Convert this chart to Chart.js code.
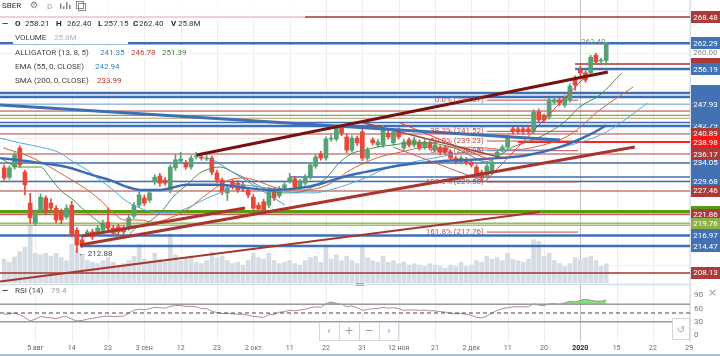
<!DOCTYPE html>
<html><head><meta charset="utf-8">
<script src="https://cdn.jsdelivr.net/npm/chart.js@4.4.1/dist/chart.umd.min.js"></script>
<style>
html,body{margin:0;padding:0;background:#fff;}
body{width:720px;height:356px;position:relative;overflow:hidden;}
canvas{position:absolute;left:0;}
#main{top:0;} #rsi{top:286px;}
</style></head><body>
<canvas id="main" width="720" height="286"></canvas>
<canvas id="rsi" width="720" height="70"></canvas>
<script>
// ---------- DATA ----------
const opens=[232.9,230.7,233.1,237.6,231.9,224.6,219.9,223.0,225.8,224.6,223.4,222.5,221.3,224.1,218.2,215.9,217.3,217.8,217.5,218.2,220.1,218.7,219.0,218.7,218.7,221.5,224.1,225.8,225.3,229.6,231.0,230.0,227.7,232.9,234.5,234.1,233.1,235.5,235.5,235.0,235.2,231.7,230.0,227.0,229.6,229.3,228.9,227.7,226.0,224.1,224.9,224.1,227.7,226.3,228.2,229.8,230.3,228.4,229.3,230.7,233.3,236.2,235.2,239.7,239.7,242.3,240.2,237.1,239.9,241.4,235.2,239.5,238.3,238.3,241.1,238.8,241.4,237.6,239.5,238.3,239.0,237.8,238.8,237.1,237.6,237.6,236.6,235.2,234.3,234.8,234.3,233.1,231.9,231.0,231.9,235.9,237.1,237.8,242.1,242.1,242.1,242.1,241.4,246.1,245.1,244.9,248.4,248.9,247.7,248.9,254.1,256.0,255.3,255.3,259.5,258.1,258.21];
const closes=[230.5,232.9,235.9,233.6,228.9,221.1,222.3,226.0,222.5,223.4,220.6,220.6,223.4,217.1,214.7,214.7,217.8,216.6,218.7,219.9,218.7,217.5,217.8,217.8,221.1,224.1,226.5,224.6,227.0,230.7,229.3,229.3,233.1,234.8,235.0,233.1,235.2,235.7,235.2,235.2,231.9,230.0,227.2,228.2,228.4,227.7,227.9,226.5,223.4,223.2,223.0,227.7,225.8,227.9,228.9,230.5,228.4,229.6,230.7,233.6,235.5,235.2,239.7,239.9,242.3,241.1,237.1,239.9,238.8,235.2,237.1,238.8,239.0,242.3,240.2,241.4,240.2,239.0,238.3,239.5,237.6,239.0,237.6,238.3,236.6,236.6,235.2,234.3,235.2,234.1,233.6,231.2,230.5,233.3,234.3,236.6,237.8,240.2,241.4,241.4,241.4,241.4,246.1,244.2,244.2,248.9,248.9,248.2,249.4,252.2,252.4,255.3,253.6,259.0,257.9,258.3,262.40];
const highs=[233.6,233.4,236.5,238.1,232.4,226.9,223.0,226.8,226.3,225.6,224.0,223.2,224.2,225.0,218.8,216.8,218.3,218.4,219.3,220.6,223.4,219.4,219.6,219.3,221.7,224.7,227.2,226.5,227.6,231.3,231.6,230.6,233.6,236.0,236.6,234.7,235.8,236.6,236.0,235.9,235.7,232.3,230.5,228.8,230.2,229.9,229.5,228.2,226.6,224.7,225.5,228.3,228.2,228.5,229.4,231.6,230.9,230.2,231.3,234.1,236.0,236.8,240.2,240.7,242.8,242.8,240.9,240.5,240.4,242.0,237.7,240.0,239.6,242.9,241.7,241.9,242.3,239.6,240.0,240.1,239.5,239.6,239.3,238.9,238.1,238.1,237.1,235.7,235.7,235.3,234.8,233.6,232.4,233.8,234.8,237.1,238.3,240.7,242.5,242.6,242.5,242.7,246.6,246.8,245.6,249.4,249.4,249.4,249.9,252.7,254.6,256.9,255.8,259.5,260.0,258.8,262.40];
const lows=[230.0,230.2,232.6,233.0,226.5,219.9,219.3,222.5,221.9,222.8,220.0,219.7,220.8,216.6,212.88,214.0,216.8,216.0,217.0,217.8,218.2,217.0,217.3,217.2,218.2,221.0,223.6,224.0,224.8,229.0,228.6,228.8,227.0,232.3,234.0,232.6,232.6,235.0,234.7,234.6,231.3,229.4,226.6,225.2,227.9,227.1,227.3,225.9,222.9,222.6,222.4,223.5,225.2,225.8,227.6,229.3,227.8,227.9,228.8,230.2,232.8,234.7,234.7,239.2,239.2,240.5,236.5,236.6,238.2,234.6,234.7,238.3,237.8,237.8,239.7,238.3,239.7,237.1,237.8,237.8,237.1,237.3,237.1,236.6,236.1,236.1,234.7,233.8,233.8,233.6,233.1,230.7,229.58,230.5,231.4,235.4,236.6,237.3,240.9,240.9,240.8,240.9,240.9,243.6,243.6,244.4,247.9,247.6,247.2,248.4,251.2,254.6,253.1,254.8,257.4,257.5,257.15];
const volumes=[32,28,35,42,48,78,40,38,40,36,40,34,30,52,46,38,30,28,26,30,34,28,24,26,30,36,52,32,30,40,32,28,66,38,30,34,36,28,26,30,42,34,36,30,26,28,24,30,40,34,32,40,30,26,28,30,26,24,30,34,36,28,50,32,38,30,36,30,26,48,34,30,28,36,28,30,26,28,24,26,24,22,26,24,22,20,24,22,28,22,24,30,28,36,32,34,30,40,32,30,28,32,58,56,36,40,30,26,22,26,34,32,34,36,30,22,25.8];
const rsiValues=[47,48,50,46,40,32,36,42,40,39,37,41,42,36,32,33,36,38,40,42,43,42,42,43,50,56,59,57,60,63,62,61,65,67,67,65,65,64,60,60,54,51,49,49,48,47,47,45,42,41,40,47,46,52,53,56,55,57,59,62,64,63,71,75,72,70,64,66,62,56,58,60,60,63,61,62,60,56,57,57,56,57,55,55,53,52,49,48,49,47,45,40,39,43,50,56,60,62,64,64,64,64,71,68,67,71,71,70,73,77,75,79,81,79,77,77,79.4];

// indicator lines, sampled at bar positions
const emaX=[-0.8,5.5,12,17,20.4,23.7,26.2,30,35.2,41.6,46.4,51.8,58.3,62.2,66,69.5,76.8,84.5,92.6,100.7,107,113.4,116];
const emaY=[235.2,234.3,233.1,231.2,230.0,228.4,227.7,227.7,228.9,228.9,228.2,227.7,228.4,229.6,231.0,231.9,233.6,234.5,235.0,235.9,237.8,241.1,242.94];
const jawX=[-0.8,3,7,10.8,13.3,16,18.5,21,23.3,26.2,28.7,32,35.2,38.3,41.6,45.4,49.3,53.1,56.4,59.5,62.8,66,69.5,73.8,78.8,84,87.8,92.6,103.2,110.9,116,124];
const jawY=[239.9,238.8,237.8,236.4,234.3,232.4,230.0,227.7,225.3,223.4,222.5,222.3,223.4,225.3,227.0,228.9,228.4,227.7,227.0,227.0,227.7,228.9,230.5,232.9,234.3,235.5,236.4,237.1,237.1,238.9,241.35,248.2];
const teethX=[-0.2,5,8.8,12.1,15.2,18.5,21,23.3,26.2,28.7,32,35.2,38.3,41.6,44,46.4,49.3,51.8,55,58.3,60.8,63.4,66,69.5,72.4,76.3,80.1,84,87.8,92.6,97.5,103.2,109,114.8,121.2];
const teethY=[237.6,235.5,233.1,230.7,228.4,225.3,222.3,220.6,220.6,220.1,221.1,223.0,226.0,228.9,230.3,230.5,229.6,228.4,227.7,227.7,228.2,229.6,231.9,234.1,235.5,236.6,237.6,237.8,237.8,237.6,237.1,238.1,240.7,246.6,252.0];
const lipsX=[-0.8,3,7,8.8,10.8,13.3,16,18.5,20.4,23.3,25.6,27.5,30.6,32.5,35.2,37.7,40.2,41.6,44,46.4,48.7,51.8,54.5,57,59.5,62.2,64.7,67.2,69.5,71.8,74.9,78.2,81.5,84.5,87.8,90.3,92.6,95.5,98,101.9,105.7,108.4,110.9,114.8,119];
const lipsY=[235.2,233.1,233.1,230.7,227.7,225.3,222.3,219.9,218.2,216.6,219.0,219.9,223.0,226.0,228.9,231.7,232.9,233.1,231.9,230.5,228.9,227.2,227.0,227.2,228.4,230.7,234.3,236.4,237.1,237.8,238.3,238.8,238.8,238.3,237.1,235.5,234.3,235.9,237.8,239.5,241.8,244.2,247.3,250.1,255.3];

// horizontal levels: price, first bar index
const levelPrices=[268.48,262.29,257.40,256.19,250.56,249.62,247.93,246.30,245.30,244.60,243.60,242.79,240.89,238.98,236.17,234.05,230.74,229.68,227.46,222.56,221.86,219.76,219.30,216.97,214.47,208.13];
const levelStart =[-1,-1,110,110,-1,-1,-1,-1,-1,-1,-1,-1,-1,99,-1,-1,55,-1,-1,-1,-1,-1,-1,-1,14.6,-1];
const levelKind  =['dred','blue','dred','blue','blue','blue','blueT','dredT','greenT','oliveT','blueM','blue','dredT','red','dredT','blueM','blueM','blueM','pink','green','dredT','olive','pinkT','blue','blue','dred'];

// right-hand labels, in drawing order (later ones cover earlier ones)
const labelPrices=[268.48,262.29,257.40,256.19,251.00,249.62,242.79,244.66,245.90,247.93,240.89,238.98,234.05,236.17,231.90,229.68,227.46,222.56,221.86,219.76,216.97,214.47,208.13];
const labelKind  =['dred','blue','dred','blue','blue','blue','blue','blue','blue','blue','dred','red','blue','dred','blue','blue','dred','green','dred','olive','blue','blue','dred'];
const labelShown =[1,1,0,1,0,0,1,0,0,1,1,1,1,1,0,1,1,1,1,1,1,1,1];

// trend lines: [barA, priceA, barB, priceB]
const trendLines=[[37.1,235.93,116.3,255.51],[14.6,214.70,121.5,237.82],[-0.8,206.1,103.2,222.5],[15,216.83,46.4,223.43],[-0.8,247.73,107.1,239.47],[68.6,243.72,96.1,235.23],[76.3,243.5,93.6,234.76],[39.7,235.23,54.1,224.14],[92.6,229.58,111.5,253.86],[74.9,237.82,92.3,229.8]];
const trendKind=['maroon','brick','brick2','brick','blueThick','brownMid','redThin','blueThin','redThin','redFaint'];

// Fibonacci levels
const fibRatios=['0.0%','38.2%','50.0%','61.8%','100.0%','161.8%'];
const fibPrices=[248.87,241.52,239.23,236.95,229.58,217.76];
const fibFrom=93, fibTo=110.6;

// time axis
const dateTickIdx=[6,13,20,27,34,41,48,55,62,69,76,83,90,97,104,111,118,125,132];
const dateTickLabels=['5 авг','14','23','3 сен','12','23','2 окт','11','22','31','12 ноя','21','2 дек','11','20','2020','15','22','29'];
const priceGrid=[270,260,250,240,230,220,210];

// ---------- STYLE ----------
const X_MIN=-0.81, X_MAX=132.14;
const GREEN='#55a272', RED='#e8483a';
const LV={dred:['#a83232',1.5],blue:['#3f6fb4',2.5],blueT:['#6a9ad0',1],blueM:['#3f6fb4',1.5],dredT:['#b04040',1],greenT:['#4c9a4c',1],oliveT:['#b0a060',1],red:['#ff2020',2],pink:['#c87878',1.5],pinkT:['#d09a9a',1],green:['#5a9b12',3.5],olive:['#9fba66',2]};
const LB={dred:'#ab3b3b',blue:'#4272b4',red:'#ff1414',green:'#5a9a10',olive:'#8fb046'};
const TK={maroon:['#7a0f0f',3],brick:['#a8352e',3],brick2:['#a8352e',2],blueThick:['#3f6fb4',3],brownMid:['#9a4a4a',1.5],redThin:['#ff3030',1],blueThin:['#5a8fd0',1],redFaint:['#c06060',1]};
const FONT='Roboto, "Liberation Sans", sans-serif';

const xy=(xs,ys)=>xs.map((x,i)=>({x:x,y:ys[i]}));
const datasets=[];
datasets.push({type:'bar',label:'vol',data:volumes.map((v,i)=>({x:i,y:v})),yAxisID:'yv',backgroundColor:'#d5dce3',barThickness:4,grouped:false,order:30});
levelPrices.forEach((p,i)=>{const s=LV[levelKind[i]];datasets.push({type:'line',data:[{x:levelStart[i]<0?X_MIN:levelStart[i],y:p},{x:X_MAX,y:p}],borderColor:s[0],borderWidth:s[1],pointRadius:0,order:20});});
fibPrices.forEach(p=>datasets.push({type:'line',data:[{x:fibFrom,y:p},{x:fibTo,y:p}],borderColor:'#c24a48',borderWidth:1,pointRadius:0,order:19}));
datasets.push({type:'bar',label:'wick',data:opens.map((o,i)=>({x:i,y:[lows[i],highs[i]]})),backgroundColor:opens.map((o,i)=>closes[i]>=o?GREEN:RED),barThickness:1,grouped:false,order:12});
datasets.push({type:'bar',label:'body',data:opens.map((o,i)=>({x:i,y:[o,closes[i]]})),backgroundColor:opens.map((o,i)=>closes[i]>=o?GREEN:RED),barThickness:4,minBarLength:1,grouped:false,order:11});
const indic=[[emaX,emaY,'#3c6db3',2.5],[jawX,jawY,'#55a9e2',1],[teethX,teethY,'#d9603c',1],[lipsX,lipsY,'#4e8e4e',1]];
indic.forEach(d=>datasets.push({type:'line',data:xy(d[0],d[1]),borderColor:d[2],borderWidth:d[3],pointRadius:0,cubicInterpolationMode:'monotone',order:6}));
trendLines.forEach((t,i)=>{const s=TK[trendKind[i]];datasets.push({type:'line',data:[{x:t[0],y:t[1]},{x:t[2],y:t[3]}],borderColor:s[0],borderWidth:s[1],pointRadius:0,order:4});});

function txt(ctx,s,x,y,color,font,align){ctx.fillStyle=color;ctx.font=font;ctx.textAlign=align||'left';ctx.textBaseline='middle';ctx.fillText(s,x,y);}

const mainDecor={id:'mainDecor',
 beforeDatasetsDraw(c){const ctx=c.ctx,xs=c.scales.x,ys=c.scales.y,a=c.chartArea;ctx.save();
  ctx.lineWidth=1;ctx.strokeStyle='#efefef';
  priceGrid.forEach(p=>{const y=Math.round(ys.getPixelForValue(p))+0.5;ctx.beginPath();ctx.moveTo(a.left,y);ctx.lineTo(a.right,y);ctx.stroke();});
  dateTickIdx.forEach((k,i)=>{const x=Math.round(xs.getPixelForValue(k))+0.5;ctx.strokeStyle=dateTickLabels[i]==='2020'?'#c2c2c2':'#ededed';ctx.beginPath();ctx.moveTo(x,a.top);ctx.lineTo(x,a.bottom+3);ctx.stroke();});
  ctx.restore();},
 afterDatasetsDraw(c){const ctx=c.ctx,xs=c.scales.x,ys=c.scales.y;ctx.save();
  const F8='8px '+FONT, B8='bold 8px '+FONT;
  // faded top header strip
  ctx.fillStyle='rgba(255,255,255,0.72)';ctx.fillRect(0,0,305,21);
  // fib texts
  fibPrices.forEach((p,i)=>txt(ctx,fibRatios[i]+' ('+p.toFixed(2)+')',xs.getPixelForValue(fibFrom)-3,ys.getPixelForValue(p),'rgba(185,60,60,0.9)',F8,'right'));
  txt(ctx,'\u2190 212.88',xs.getPixelForValue(14)+1,ys.getPixelForValue(212.88)+1,'#444',F8);
  txt(ctx,'262.40',xs.getPixelForValue(113.5),ys.getPixelForValue(262.6),'#8a8a8a',F8,'center');
  // header
  txt(ctx,'SBER',2,6,'#333',F8);
  txt(ctx,'\u2699',30,6,'#777','9px "DejaVu Sans"');
  txt(ctx,'D',47,7,'#999',F8);
  ctx.fillStyle='#888';[[60,4],[63,2],[66,5],[69,3]].forEach(b=>ctx.fillRect(b[0],9-b[1]*1.4,1.5,b[1]*1.4));
  ctx.strokeStyle='#888';ctx.lineWidth=1;ctx.strokeRect(76.5,1.5,7,7);ctx.strokeRect(78.5,3.5,7,7);
  txt(ctx,'\u2014',2,24,'#222',B8);
  [['O',15],['H',56],['L',98],['C',133],['V',171]].forEach(t=>txt(ctx,t[0],t[1],24,'#222',B8));
  [['258.21',25],['262.40',67],['257.15',104],['262.40',139],['25.8M',178]].forEach(t=>txt(ctx,t[0],t[1],24,'#333',F8));
  const rows=[[38,[['VOLUME','#444',15],['25.8M','#aab4c0',54]],128],[53,[['ALLIGATOR (13, 8, 5)','#444',15],['241.35','#3b7fcf',100],['246.78','#c0392b',131],['251.39','#3e7e3e',162]],190],[67,[['EMA (55, 0, CLOSE)','#444',15],['242.94','#3b7fcf',95]],122],[81,[['SMA (200, 0, CLOSE)','#444',15],['233.99','#c0392b',97]],124]];
  rows.forEach(r=>{ctx.fillStyle='#fff';ctx.fillRect(13,r[0]-6,r[2]-13,12);r[1].forEach(t=>txt(ctx,t[0],t[2],r[0],t[1],F8));});
  // right border and labels
  ctx.fillStyle='#fff';ctx.fillRect(690,0,30,286);
  ctx.strokeStyle='#d9e0e7';ctx.beginPath();ctx.moveTo(690.5,0);ctx.lineTo(690.5,286);ctx.stroke();
  txt(ctx,'260.00',693,ys.getPixelForValue(260),'#8a8a8a',F8);
  labelPrices.forEach((p,i)=>{const y=ys.getPixelForValue(p);ctx.fillStyle=LB[labelKind[i]];ctx.fillRect(691,Math.round(y-6),29,12);if(labelShown[i])txt(ctx,p.toFixed(2),705.5,y+0.5,'#fff',F8,'center');});
  // separator
  ctx.strokeStyle='#d3dbe4';ctx.lineWidth=1.5;ctx.beginPath();ctx.moveTo(0,284.5);ctx.lineTo(690,284.5);ctx.stroke();
  ctx.strokeStyle='#aaa';ctx.lineWidth=1;ctx.beginPath();ctx.moveTo(356,283.5);ctx.lineTo(364,283.5);ctx.moveTo(356,285.5);ctx.lineTo(364,285.5);ctx.stroke();
  ctx.restore();}
};

new Chart(document.getElementById('main'),{type:'bar',data:{datasets:datasets},
 options:{responsive:false,devicePixelRatio:1,animation:false,events:[],
  layout:{padding:{left:0,right:30,top:0,bottom:3}},
  plugins:{legend:{display:false},tooltip:{enabled:false}},
  scales:{x:{type:'linear',min:X_MIN,max:X_MAX,display:false,offset:false},
          y:{min:205.75,max:272.49,display:false},
          yv:{min:0,max:380,display:false}}},
 plugins:[mainDecor]});

// ---------- RSI ----------
const rsiDecor={id:'rsiDecor',
 beforeDatasetsDraw(c){const ctx=c.ctx,xs=c.scales.x,a=c.chartArea;ctx.save();ctx.lineWidth=1;
  dateTickIdx.forEach((k,i)=>{const x=Math.round(xs.getPixelForValue(k))+0.5;ctx.strokeStyle=dateTickLabels[i]==='2020'?'#c2c2c2':'#ededed';ctx.beginPath();ctx.moveTo(x,0);ctx.lineTo(x,56);ctx.stroke();});
  ctx.restore();},
 afterDatasetsDraw(c){const ctx=c.ctx,xs=c.scales.x,ys=c.scales.y;ctx.save();
  const F8='8px '+FONT;
  ctx.fillStyle='#fff';ctx.fillRect(690,0,30,70);
  ctx.strokeStyle='#d9e0e7';ctx.lineWidth=1;ctx.beginPath();ctx.moveTo(690.5,0);ctx.lineTo(690.5,56);ctx.stroke();
  [90,60,30,0].forEach(v=>txt(ctx,String(v),694,ys.getPixelForValue(v),'#777',F8));
  txt(ctx,'\u00d7',708,7,'#999','11px "DejaVu Sans"');
  txt(ctx,'\u2014',2,5,'#222','bold 8px '+FONT);
  txt(ctx,'RSI (14)',15,5,'#444',F8);
  txt(ctx,'79.4',51,5,'#9a9a9a',F8);
  // navigation widget
  ctx.fillStyle='#fff';ctx.fillRect(319,36,80,19);ctx.strokeStyle='#cfd6dd';ctx.strokeRect(319.5,36.5,79,18);
  [339.5,359.5,379.5].forEach(x=>{ctx.beginPath();ctx.moveTo(x,36);ctx.lineTo(x,55);ctx.stroke();});
  [['\u2039',329],['+',349],['\u2212',369],['\u203a',389]].forEach(t=>txt(ctx,t[0],t[1],45,'#999','11px "DejaVu Sans"','center'));
  ctx.fillStyle='#fff';ctx.fillRect(672,32,18,22);ctx.strokeRect(672.5,32.5,17,21);
  txt(ctx,'\u21ba',681,44,'#aaa','10px "DejaVu Sans"','center');
  // time axis labels
  dateTickIdx.forEach((k,i)=>txt(ctx,dateTickLabels[i],xs.getPixelForValue(k),62,dateTickLabels[i]==='2020'?'#222':'#666',(dateTickLabels[i]==='2020'?'bold ':'')+'7px '+FONT,'center'));
  ctx.strokeStyle='#a9c2da';ctx.lineWidth=2;ctx.beginPath();ctx.moveTo(0,69);ctx.lineTo(720,69);ctx.stroke();
  ctx.restore();}
};
new Chart(document.getElementById('rsi'),{type:'line',data:{datasets:[
  {data:[{x:X_MIN,y:70},{x:X_MAX,y:70}],borderColor:'#9c9c9c',borderWidth:1.5,pointRadius:0},
  {data:[{x:X_MIN,y:30},{x:X_MAX,y:30}],borderColor:'#9c9c9c',borderWidth:1.5,pointRadius:0},
  {data:[{x:X_MIN,y:50},{x:X_MAX,y:50}],borderColor:'#444',borderWidth:1,borderDash:[4,3],pointRadius:0},
  {data:rsiValues.map((v,i)=>({x:i,y:v})),borderColor:'#b58a8a',borderWidth:1,pointRadius:0,fill:{target:{value:70},above:'rgba(100,225,100,0.85)',below:'rgba(0,0,0,0)'}}
 ]},
 options:{responsive:false,devicePixelRatio:1,animation:false,events:[],
  layout:{padding:{left:0,right:30,top:5,bottom:21}},
  plugins:{legend:{display:false},tooltip:{enabled:false}},
  scales:{x:{type:'linear',min:X_MIN,max:X_MAX,display:false},y:{min:0,max:100,display:false}}},
 plugins:[rsiDecor]});
</script></body></html>
